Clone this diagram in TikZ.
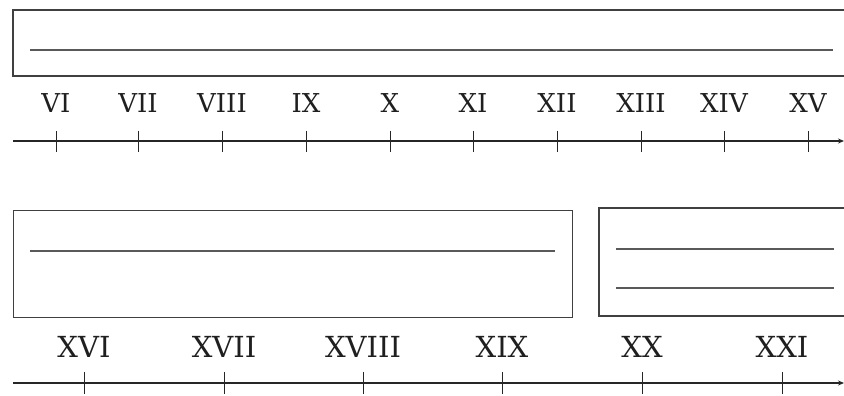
\documentclass[tikz,border=0pt]{standalone}
\usepackage{fontspec}
\setmainfont{DejaVu Serif}
\usetikzlibrary{arrows.meta}
\begin{document}
\begin{tikzpicture}[x=1pt,y=-1pt,
  frame/.style={draw=black!75,line width=1.3pt},
  rule/.style={draw=black!65,line width=1.1pt},
  axis/.style={draw=black!85,line width=1.1pt,-{Stealth[length=6pt,width=5pt]}},
  tick/.style={draw=black!85,line width=1pt},
  toplab/.style={anchor=base,text=black!88,font=\fontsize{26}{28}\selectfont,inner sep=0pt},
  botlab/.style={anchor=base,text=black!88,font=\fontsize{29}{31}\selectfont,inner sep=0pt}]
\useasboundingbox (0,0) rectangle (844,396);
% top box
\draw[frame] (846,10) -- (13,10) -- (13,76) -- (846,76);
\coordinate (r1a) at (30,50); \coordinate (r1b) at (833,50);
\draw[rule] (r1a) -- (r1b);
% top axis
\coordinate (ta0) at (13,141); \coordinate (ta1) at (844,141);
\draw[axis] (ta0) -- (ta1);
\foreach \x/\t [count=\i] in {56/VI,138/VII,222/VIII,306/IX,390/X,473/XI,557/XII,641/XIII,724/XIV,808/XV}{
  \node[toplab] (tl\i) at (\x,113) {\t};
  \coordinate (tt\i) at (\x,131);
  \coordinate (tb\i) at (\x,152);
  \draw[tick] (tt\i) -- (tb\i);
}
% bottom boxes
\node[frame,minimum width=559pt,minimum height=107pt,inner sep=0pt,anchor=north west] (bx1) at (13,210) {};
\coordinate (r2a) at (30,251); \coordinate (r2b) at (555,251);
\draw[rule] (r2a) -- (r2b);
\draw[frame] (846,208) -- (599,208) -- (599,316) -- (846,316);
\coordinate (r3a) at (616,249); \coordinate (r3b) at (834,249);
\coordinate (r4a) at (616,288); \coordinate (r4b) at (834,288);
\draw[rule] (r3a) -- (r3b);
\draw[rule] (r4a) -- (r4b);
% bottom axis
\coordinate (ba0) at (13,383); \coordinate (ba1) at (844,383);
\draw[axis] (ba0) -- (ba1);
\foreach \x/\t [count=\i] in {84/XVI,224/XVII,363/XVIII,502/XIX,642/XX,782/XXI}{
  \node[botlab] (bl\i) at (\x,357) {\t};
  \coordinate (bt\i) at (\x,372);
  \coordinate (bb\i) at (\x,394);
  \draw[tick] (bt\i) -- (bb\i);
}
\end{tikzpicture}
\end{document}
